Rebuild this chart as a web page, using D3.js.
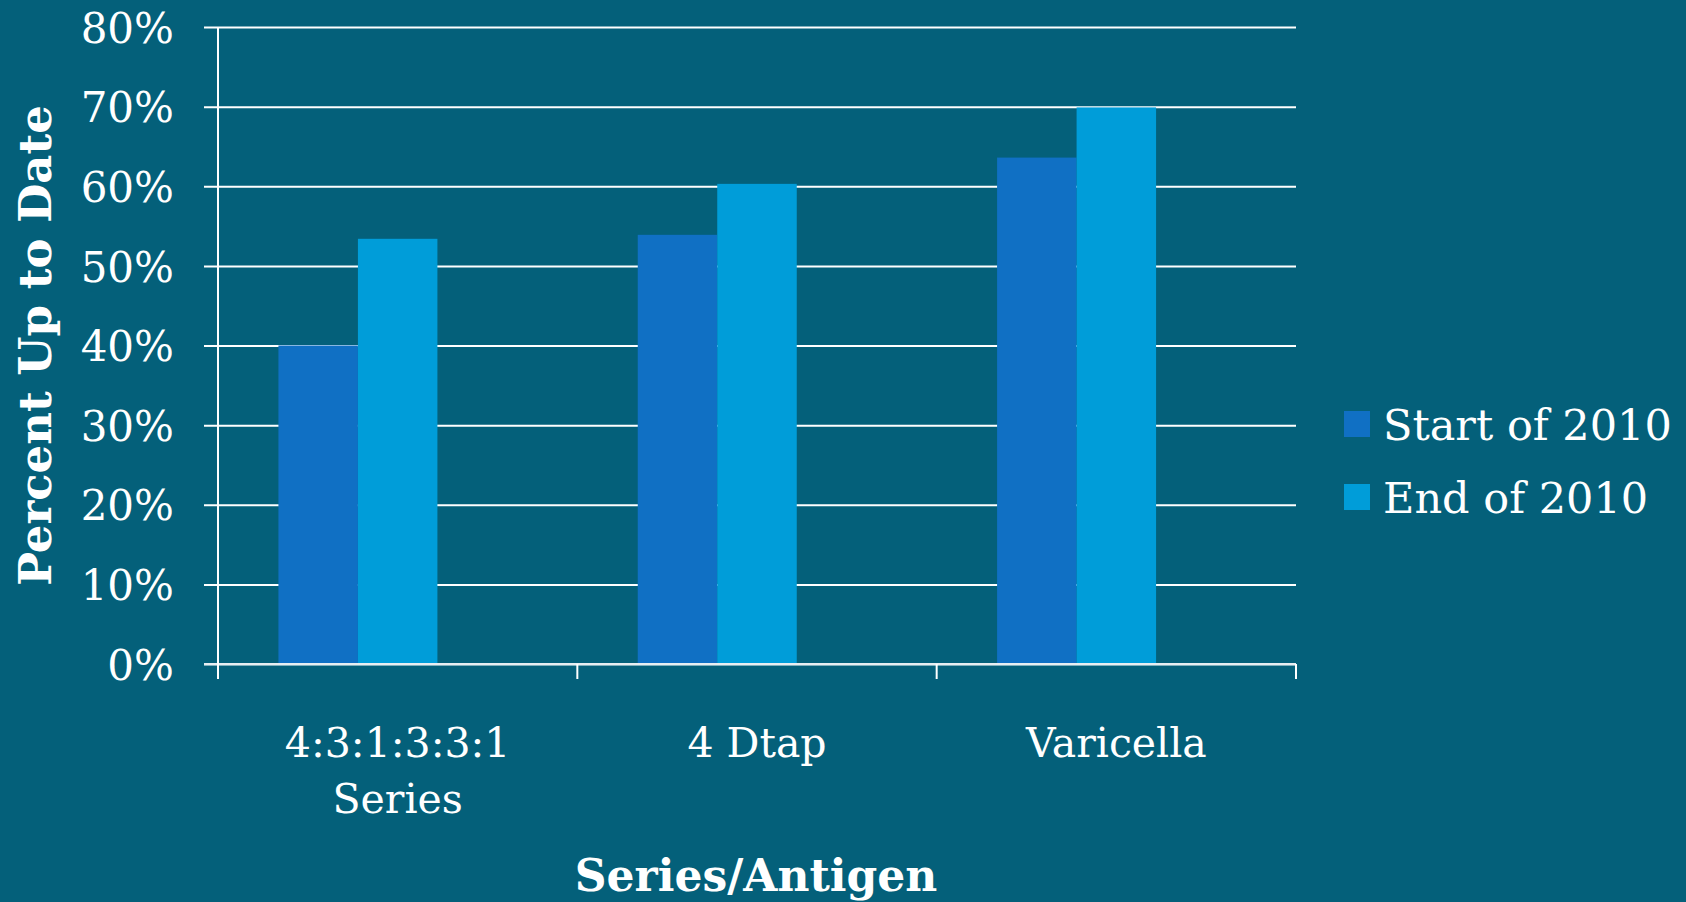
<!DOCTYPE html>
<html>
<head>
<meta charset="utf-8">
<script src="https://cdn.jsdelivr.net/npm/d3@7"></script>
<style>
  html, body { margin: 0; padding: 0; background: #04607A; }
  svg { display: block; }
  text { font-family: "DejaVu Serif", serif; fill: #ffffff; }
</style>
</head>
<body>
<svg id="chart" width="1686" height="902"></svg>
<script>
// ---- data ----
const categories = ["4:3:1:3:3:1 Series", "4 Dtap", "Varicella"];
const categoryLines = [["4:3:1:3:3:1", "Series"], ["4 Dtap"], ["Varicella"]];
const seriesNames = ["Start of 2010", "End of 2010"];
const startValues = [0.400, 0.539, 0.636];
const endValues = [0.534, 0.603, 0.699];
const yTicks = [0, 0.1, 0.2, 0.3, 0.4, 0.5, 0.6, 0.7, 0.8];
const seriesColors = ["#1070C4", "#009DD9"];
const xTitle = "Series/Antigen";
const yTitle = "Percent Up to Date";

// ---- layout ----
const svg = d3.select("#chart");
const W = 1686, H = 902;
svg.append("rect").attr("width", W).attr("height", H).attr("fill", "#04607A");

const plotLeft = 218, plotRight = 1296, plotTop = 27, plotBottom = 664;

const x0 = d3.scaleBand().domain(categories).range([plotLeft, plotRight]).paddingInner(0).paddingOuter(0);
// Three slots per category (the chart leaves room for a third, empty series)
const x1 = d3.scaleBand().domain([0, 1, 2]).range([0, x0.bandwidth()]).paddingInner(0).paddingOuter(0.76);
const y = d3.scaleLinear().domain([0, 0.8]).range([plotBottom, plotTop]);

// gridlines + y tick labels
const gy = svg.append("g")
  .attr("transform", `translate(${plotLeft - 14},0)`)
  .call(d3.axisLeft(y).tickValues(yTicks).tickSize(-(plotRight - plotLeft + 14)).tickPadding(30).tickFormat(d3.format(".0%")));
gy.select(".domain").remove();
gy.selectAll(".tick line").attr("stroke", "#ffffff").attr("stroke-width", 2);
gy.selectAll(".tick text").attr("font-family", "DejaVu Serif").attr("font-size", 42).attr("fill", "#ffffff").attr("dy", "0.36em");

// bars
const seriesData = [startValues, endValues];
seriesData.forEach((vals, si) => {
  svg.append("g").selectAll("rect")
    .data(vals)
    .join("rect")
    .attr("x", (d, i) => x0(categories[i]) + x1(si))
    .attr("width", x1.bandwidth())
    .attr("y", d => y(d))
    .attr("height", d => y(0) - y(d))
    .attr("fill", seriesColors[si]);
});

// x axis line (baseline)
svg.append("line")
  .attr("x1", plotLeft - 14).attr("x2", plotRight)
  .attr("y1", y(0)).attr("y2", y(0))
  .attr("stroke", "#e8eef2").attr("stroke-width", 2);

// y axis line
svg.append("line")
  .attr("x1", plotLeft).attr("x2", plotLeft)
  .attr("y1", plotTop).attr("y2", plotBottom + 15)
  .attr("stroke", "#ffffff").attr("stroke-width", 2);

// category boundary ticks
const boundaries = categories.map(c => x0(c)).concat([plotRight]);
svg.append("g").selectAll("line")
  .data(boundaries)
  .join("line")
  .attr("x1", d => d).attr("x2", d => d)
  .attr("y1", plotBottom).attr("y2", plotBottom + 15)
  .attr("stroke", "#ffffff").attr("stroke-width", 2);

// category labels
const gx = svg.append("g");
categories.forEach((c, i) => {
  const t = gx.append("text")
    .attr("x", x0(c) + x0.bandwidth() / 2)
    .attr("y", 757)
    .attr("text-anchor", "middle")
    .attr("font-size", 41);
  categoryLines[i].forEach((line, li) => {
    t.append("tspan").attr("x", x0(c) + x0.bandwidth() / 2).attr("dy", li === 0 ? 0 : 56).text(line);
  });
});

// axis titles
svg.append("text")
  .attr("x", (plotLeft + plotRight) / 2 - 1)
  .attr("y", 891)
  .attr("text-anchor", "middle")
  .attr("font-size", 44)
  .attr("font-weight", "bold")
  .text(xTitle);

svg.append("text")
  .attr("transform", `translate(51,${(plotTop + plotBottom) / 2}) rotate(-90)`)
  .attr("text-anchor", "middle")
  .attr("font-size", 45)
  .attr("font-weight", "bold")
  .text(yTitle);

// legend
const legend = svg.append("g");
seriesNames.forEach((name, i) => {
  const ly = 411 + i * 73;
  legend.append("rect").attr("x", 1344).attr("y", ly).attr("width", 26).attr("height", 26).attr("fill", seriesColors[i]);
  legend.append("text").attr("x", 1383).attr("y", ly + 29).attr("font-size", 43).text(name);
});
</script>
</body>
</html>
